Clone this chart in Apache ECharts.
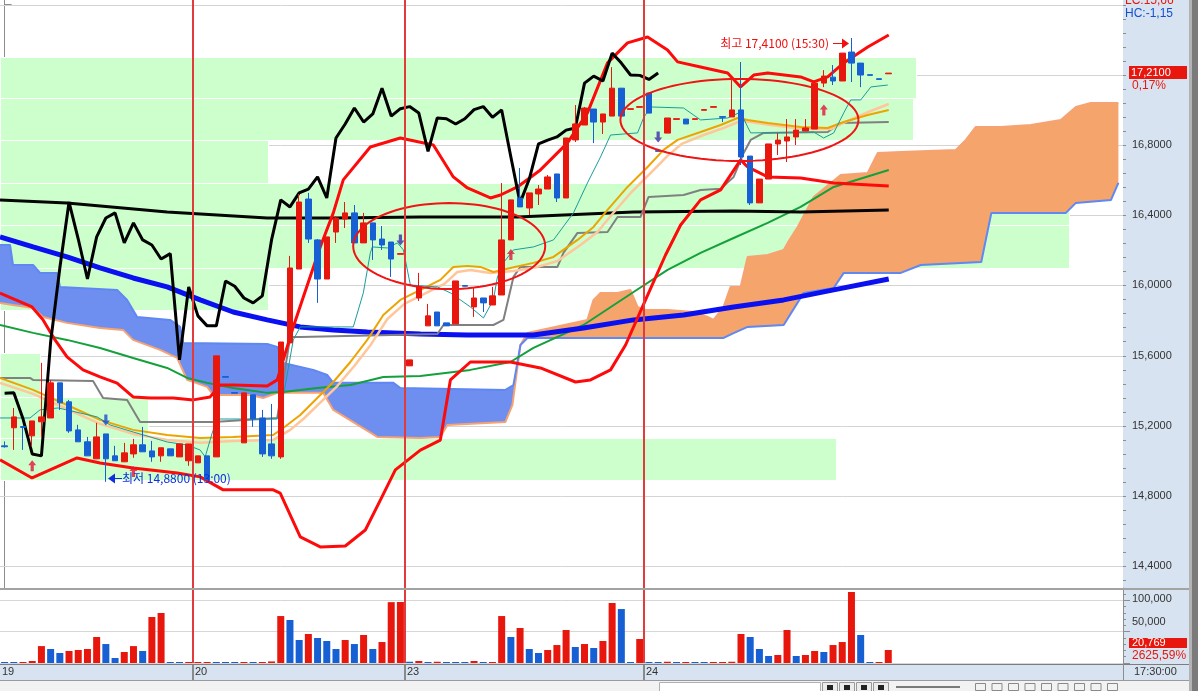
<!DOCTYPE html>
<html>
<head>
<meta charset="utf-8">
<script src="https://cdn.jsdelivr.net/npm/echarts@6.0.0/dist/echarts.min.js"></script>
<style>
html,body{margin:0;padding:0;background:#ffffff;overflow:hidden;}
#chart{width:1198px;height:691px;position:relative;}
</style>
</head>
<body>
<div id="chart"></div>
<script>
// ================= DATA =================
const dayLabels = ['19', '20', '23', '24'];
const dayStarts = [0, 21, 44, 70];
const futureSlots = 25;
const lastTimeLabel = '17:30:00';

// [open, close, low, high]
const candles = [
[15.085,15.080,15.075,15.110],[15.188,15.250,15.062,15.301],[15.195,15.190,15.062,15.195],[15.142,15.227,15.079,15.227],
[15.222,15.250,15.136,15.558],[15.244,15.444,15.244,15.460],[15.444,15.330,15.290,15.444],[15.336,15.170,15.159,15.347],
[15.176,15.108,15.108,15.205],[15.108,15.028,15.028,15.136],[15.011,15.136,15.011,15.216],[15.153,15.011,14.880,15.153],
[15.028,15.000,15.000,15.085],[14.994,15.045,14.994,15.102],[15.039,15.091,15.017,15.125],[15.091,15.051,15.051,15.193],
[15.056,15.022,14.994,15.113],[15.028,15.074,14.994,15.074],[15.068,15.028,15.028,15.068],[15.022,15.096,15.022,15.096],
[15.000,15.096,14.971,15.096],[14.988,15.028,14.988,15.028],[15.028,14.891,14.891,15.028],[15.022,15.598,15.022,15.598],
[15.480,15.476,15.476,15.480],[15.389,15.385,15.385,15.389],[15.102,15.387,15.102,15.387],[15.376,15.239,15.193,15.376],
[15.244,15.039,15.022,15.290],[15.096,15.028,15.011,15.324],[15.022,15.677,15.011,15.677],[15.672,16.099,15.672,16.168],
[16.093,16.475,16.093,16.521],[16.492,16.264,16.242,16.527],[16.259,16.036,15.900,16.264],[16.036,16.276,16.036,16.276],
[16.304,16.384,16.242,16.395],[16.378,16.413,16.327,16.475],[16.413,16.242,16.242,16.458],[16.242,16.356,16.242,16.413],
[16.356,16.259,16.145,16.356],[16.264,16.230,16.202,16.338],[16.247,16.150,16.048,16.247],[16.177,16.181,16.177,16.181],
[15.541,15.575,15.541,15.575],[15.928,15.991,15.911,16.071],[15.769,15.826,15.769,15.894],[15.848,15.769,15.769,15.848],
[15.786,15.769,15.769,15.786],[15.780,16.025,15.780,16.025],[15.999,15.995,15.995,15.999],[15.877,15.928,15.820,15.985],
[15.928,15.900,15.848,15.928],[15.888,15.940,15.888,15.991],[15.945,16.259,15.945,16.583],[16.259,16.487,16.259,16.487],
[16.498,16.447,16.447,16.669],[16.441,16.527,16.401,16.527],[16.521,16.549,16.458,16.572],[16.549,16.618,16.549,16.629],
[16.635,16.498,16.475,16.635],[16.498,16.840,16.498,16.840],[16.829,16.920,16.817,17.028],[16.914,17.011,16.914,17.017],
[17.005,16.931,16.811,17.005],[16.931,16.977,16.863,16.977],[16.965,17.124,16.965,17.244],[17.124,16.965,16.965,17.124],
[17.003,17.007,17.003,17.007],[17.015,17.019,17.015,17.019],[17.096,16.982,16.982,17.096],[16.768,16.764,16.764,16.768],
[16.868,16.954,16.868,16.954],[16.946,16.950,16.946,16.950],[16.948,16.920,16.920,16.948],[16.946,16.950,16.946,16.950],
[16.998,17.002,16.998,17.002],[17.015,17.019,17.015,17.019],[16.962,16.958,16.931,16.962],[16.960,17.000,16.960,17.170],
[17.000,16.732,16.686,17.273],[16.737,16.470,16.458,16.737],[16.470,16.606,16.470,16.606],[16.606,16.806,16.606,16.806],
[16.806,16.828,16.743,16.868],[16.823,16.846,16.703,16.948],[16.846,16.885,16.800,16.948],[16.880,16.897,16.880,16.948],
[16.891,17.153,16.891,17.153],[17.153,17.193,17.130,17.227],[17.187,17.165,17.142,17.256],[17.165,17.324,17.165,17.324],
[17.330,17.267,17.159,17.410],[17.267,17.199,17.130,17.267],[17.201,17.197,17.197,17.201],[17.178,17.174,17.174,17.178],
[17.206,17.210,17.206,17.210]
];

const volumes = [
900,800,850,3200,27000,22400,16000,19200,20800,22400,41500,30300,8000,17600,27000,19200,73500,79900,900,800,
850,900,950,900,850,800,850,800,850,2500,75000,68700,36700,46300,39900,35100,22400,36700,30300,44700,
22400,33500,97200,97400,2000,3200,800,2000,850,800,750,3200,800,850,75000,41500,55900,22400,16000,20800,
28700,52700,25600,30300,24000,35100,95800,86200,800,38300,750,700,2000,800,850,800,750,800,850,2000,
46300,41500,22400,11200,12800,52700,11200,12800,19200,17600,28700,33500,113400,44700,750,762,20769
];

// indicator lines: [bar position, price]
const bbUpper = [[-0.5,15.956],[2.98,15.877],[4.18,15.803],[5.48,15.689],[6.78,15.592],[8.52,15.518],[10.37,15.478],[12.22,15.443],[13.96,15.364],[15.81,15.358],[18.31,15.358],[20.49,15.347],[22.33,15.364],[23.42,15.432],[24.83,15.432],[28.53,15.426],[29.62,15.461],[30.27,15.575],[31.36,15.763],[32.45,15.934],[34.29,16.219],[35.71,16.413],[36.79,16.601],[39.73,16.789],[42.99,16.840],[46.58,16.800],[48.75,16.618],[50.28,16.555],[52.78,16.498],[53.87,16.515],[55.71,16.561],[58.21,16.658],[61.15,16.812],[63.32,16.983],[65.50,17.268],[67.67,17.382],[69.85,17.416],[72.02,17.342],[73.11,17.274],[75.61,17.245],[78.55,17.211],[79.96,17.131],[81.38,17.199],[82.90,17.211],[86.48,17.188],[87.90,17.160],[89.42,17.188],[91.16,17.268],[93.77,17.359],[96.05,17.427]];
const bbLower = [[-0.5,15.005],[2.98,14.902],[7.87,15.016],[10.37,14.987],[13.96,14.959],[18.75,14.930],[21.25,14.908],[23.75,14.834],[29.18,14.834],[29.94,14.816],[32.12,14.566],[34.29,14.509],[37.01,14.514],[39.19,14.605],[40.82,14.776],[42.45,14.948],[45.17,15.061],[47.34,15.118],[48.43,15.461],[50.60,15.563],[54.95,15.563],[58.21,15.529],[62.02,15.449],[63.65,15.461],[65.83,15.518],[67.46,15.660],[69.63,15.917],[71.80,16.173],[73.44,16.344],[75.61,16.487],[77.79,16.544],[79.96,16.715],[80.72,16.675],[82.90,16.618],[86.48,16.612],[90.07,16.584],[96.05,16.567]];
const maBlack = [[-0.5,16.487],[6.78,16.470],[17.66,16.418],[28.53,16.384],[35.71,16.384],[45.17,16.390],[55.71,16.390],[68.33,16.418],[79.2,16.424],[86.48,16.418],[96.05,16.430]];
const maBlue = [[-0.5,16.276],[3.09,16.219],[6.78,16.162],[10.37,16.099],[13.96,16.042],[17.66,15.991],[21.25,15.917],[24.83,15.848],[28.53,15.803],[32.12,15.763],[35.71,15.746],[39.4,15.734],[45.17,15.723],[50.28,15.717],[57.45,15.717],[62.89,15.757],[68.33,15.803],[73.76,15.831],[79.2,15.877],[84.64,15.917],[90.07,15.974],[96.05,16.036]];
const maGreen = [[-0.5,15.774],[3.09,15.729],[6.78,15.689],[10.37,15.643],[13.96,15.586],[17.66,15.529],[19.83,15.472],[22.01,15.444],[24.83,15.415],[28.53,15.387],[30.27,15.392],[33.97,15.415],[37.56,15.432],[41.14,15.478],[45.17,15.483],[50.60,15.518],[54.95,15.563],[57.45,15.643],[62.89,15.774],[68.33,15.962],[72.02,16.088],[75.61,16.185],[79.2,16.270],[82.90,16.356],[86.48,16.447],[90.07,16.561],[96.05,16.658]];
const kijun = [[-0.5,15.472],[2.76,15.472],[3.09,15.461],[9.61,15.455],[10.7,15.358],[13.31,15.346],[14.72,15.221],[22.66,15.221],[29.62,15.244],[31.03,15.706],[32.12,15.706],[47.02,15.723],[47.67,15.774],[53.1,15.774],[54.19,15.803],[55.28,16.048],[56.04,16.105],[60.06,16.105],[60.71,16.185],[62.24,16.299],[65.5,16.304],[66.59,16.390],[69.09,16.390],[69.96,16.504],[73.76,16.515],[75.61,16.544],[77.79,16.550],[79.2,16.618],[80.29,16.755],[81.05,16.829],[82.46,16.869],[89.42,16.874],[90.83,16.926],[96.05,16.931]];
const tenkan = [[-0.5,15.244],[2.76,15.244],[3.85,15.290],[5.81,15.301],[10.05,15.250],[11.46,15.204],[13.96,15.164],[15.81,15.136],[17.66,15.107],[19.83,15.090],[21.25,15.061],[21.79,15.022],[22.55,15.158],[23.09,15.238],[29.62,15.238],[30.27,15.364],[31.36,15.689],[32.12,15.763],[37.88,15.763],[38.97,15.957],[39.73,16.185],[39.95,16.219],[41.58,16.213],[42.67,16.242],[43.32,16.202],[44.08,16.002],[47.02,15.991],[48.43,15.957],[50.6,15.877],[52.02,15.814],[53.1,15.917],[53.54,16.048],[54.19,16.128],[55.28,16.202],[57.45,16.219],[59.63,16.259],[61.8,16.413],[63.32,16.584],[64.74,16.732],[65.83,16.857],[68.76,16.869],[69.41,16.954],[70.17,17.017],[73.76,17.011],[75.61,16.943],[78.55,16.954],[79.96,16.988],[80.72,16.903],[81.05,16.869],[87.9,16.874],[88.98,16.840],[90.07,16.869],[91.16,16.983],[91.92,17.057],[93.01,17.057],[94.1,17.131],[95.94,17.142]];
const maOrange = [[-0.5,15.472],[3.09,15.404],[6.78,15.318],[10.37,15.233],[13.96,15.176],[17.66,15.147],[21.25,15.130],[24.83,15.136],[29.18,15.147],[30.27,15.187],[32.12,15.261],[35.71,15.449],[37.56,15.563],[39.4,15.689],[41.14,15.831],[42.99,15.917],[45.17,15.974],[47.34,16.031],[48.75,16.105],[50.28,16.111],[51.69,16.105],[53.1,16.076],[54.95,16.099],[57.45,16.128],[59.63,16.162],[62.24,16.259],[63.98,16.333],[65.5,16.430],[67.67,16.561],[69.85,16.675],[71.59,16.772],[73.11,16.829],[75.61,16.874],[77.79,16.914],[79.63,16.954],[80.72,16.943],[82.9,16.926],[86.48,16.903],[89.42,16.897],[91.16,16.931],[93.77,16.971],[96.05,17.000]];
const maPeach = [[-0.5,15.444],[3.09,15.381],[6.78,15.295],[10.37,15.210],[13.96,15.153],[17.66,15.119],[21.25,15.102],[24.83,15.113],[29.18,15.119],[31.03,15.176],[32.45,15.238],[36.14,15.426],[37.99,15.540],[39.84,15.666],[41.58,15.808],[43.43,15.894],[45.6,15.951],[47.78,16.008],[49.19,16.076],[50.6,16.088],[52.78,16.071],[55.28,16.082],[57.89,16.105],[60.06,16.139],[62.56,16.230],[64.41,16.304],[65.93,16.401],[68.11,16.532],[70.28,16.646],[72.02,16.738],[73.55,16.806],[75.94,16.857],[78.11,16.897],[79.96,16.937],[81.05,16.931],[83.22,16.914],[86.81,16.891],[89.75,16.891],[91.59,16.937],[94.1,16.994],[96.05,17.034]];
const spanA = [[-0.5,15.900],[0.91,15.888],[3.09,15.871],[4.18,15.820],[6.78,15.786],[10.37,15.757],[12.87,15.746],[13.96,15.689],[16.9,15.632],[18.75,15.586],[19.83,15.461],[22.01,15.421],[22.66,15.375],[26.68,15.375],[28.1,15.358],[29.62,15.387],[34.62,15.387],[35.71,15.290],[40.49,15.136],[45.17,15.130],[47.34,15.136],[48.1,15.204],[54.41,15.221],[55.17,15.318],[56.04,15.660],[56.8,15.728],[63.32,15.803],[63.98,15.917],[64.74,15.957],[66.59,15.957],[67.98,15.974],[68.76,15.877],[69.41,15.860],[72.02,15.860],[74.85,15.848],[76.37,15.820],[77.02,15.803],[78.11,15.877],[78.87,15.991],[79.96,15.991],[80.72,16.162],[82.9,16.173],[84.64,16.202],[85.07,16.242],[86.16,16.333],[87.9,16.504],[90.83,16.629],[93.77,16.641],[94.86,16.755],[97.36,16.760],[103.34,16.772],[104.43,16.829],[105.51,16.903],[108.23,16.903],[111.5,16.914],[114.75,16.943],[116.38,17.017],[118.0,17.040],[121.0,17.040]];
const spanB = [[-0.5,16.230],[0.59,16.230],[0.91,16.116],[3.09,16.116],[3.85,16.071],[5.7,16.071],[6.02,15.991],[12.22,15.974],[13.31,15.917],[14.4,15.820],[17.98,15.803],[19.07,15.763],[19.4,15.671],[28.53,15.666],[29.62,15.649],[30.27,15.557],[33.53,15.518],[35.06,15.489],[35.71,15.444],[42.24,15.444],[43.0,15.415],[54.41,15.404],[55.28,15.432],[56.04,15.660],[56.8,15.700],[78.11,15.700],[79.2,15.728],[80.72,15.763],[84.64,15.774],[86.81,15.957],[90.07,15.985],[91.16,16.071],[97.36,16.071],[99.53,16.116],[106.1,16.133],[107.2,16.413],[115.3,16.413],[116.38,16.470],[120.2,16.487],[121.0,16.584]];
const cloudCross = 56.04;

// support / resistance zones: [from bar, to bar, low price, high price]
const zones = [
[-0.5,99.0,17.068,17.302],[-0.5,98.7,16.829,17.068],[-0.5,28.6,16.584,16.829],[-0.5,115.6,16.344,16.584],
[-0.5,115.6,16.099,16.344],[-0.5,28.6,15.860,16.099],[-0.5,3.85,15.364,15.615],
[-0.5,15.6,15.130,15.364],[-0.5,90.3,14.891,15.130]
];
// hand-drawn ellipses: [centre bar, centre price, radius in bars, radius in price]
const ellipses = [[48.3,16.224,10.43,0.245],[79.83,16.943,12.93,0.234]];
// signal arrows: [bar, price]
const buySignals = [[3,14.972],[14,14.939],[55,16.176],[89,17.0]];
const sellSignals = [[11,15.233],[43,16.258],[71,16.846]];

const priceTicks = [14.4,14.8,15.2,15.6,16.0,16.4,16.8,17.2,17.6];
const priceLabels = [14.4,14.8,15.2,15.6,16.0,16.4,16.8];
const volumeTicks = [50000,100000];
const maxNote = {bar:92, text:'최고 17,4100 (15:30)'};
const minNote = {bar:11, text:'최저 14,8800 (13:00)'};
const headerLC = 'LC:15,66', headerHC = 'HC:-1,15', changeText = '0,17%';

// ================= CHART =================
const RED = '#e8170e', BLUE = '#1660d4';
const FONT = '"Liberation Sans", Arial, sans-serif';
const KFONT = '"Noto Sans CJK KR", "Liberation Sans", sans-serif';
const nSlots = candles.length + futureSlots;
const categories = [];
for (let i = 0; i < nSlots; i++) categories.push(String(i));
const priceMin = 14.2746, priceMax = 17.6267, volMax = 119800;
const volPanelHeight = 75;
const minorTicks = [];
for (let k = 0; k <= 41; k++) minorTicks.push(+(14.32 + k * 0.08).toFixed(2));
const chikou = [];
for (let i = 0; i + futureSlots < candles.length; i++) chikou.push([i, candles[i + futureSlots][1]]);

const chart = echarts.init(document.getElementById('chart'), null, {renderer: 'canvas'});

function lineSeries(name, data, color, width, z) {
  return {name, type: 'line', xAxisIndex: 1, yAxisIndex: 0, data, showSymbol: false, symbol: 'none',
    lineStyle: {color, width}, z, silent: true, animation: false, clip: true};
}
const hiddenAxisParts = {
  show: false, axisLine: {show: false}, axisTick: {show: false}, axisLabel: {show: false},
  splitLine: {show: false}, splitArea: {show: false}, minorTick: {show: false}, minorSplitLine: {show: false},
  axisPointer: {show: false}
};

const option = {
  animation: false,
  backgroundColor: '#ffffff',
  tooltip: {show: false},
  axisPointer: {show: false},
  grid: [
    {left: 0, right: 75, top: 0, height: 588, show: false},
    {left: 0, right: 75, top: 588, height: volPanelHeight, show: false}
  ],
  xAxis: [
    Object.assign({type: 'category', gridIndex: 0, position: 'bottom', data: categories, boundaryGap: true}, hiddenAxisParts),
    Object.assign({type: 'value', gridIndex: 0, position: 'top', min: -0.5, max: nSlots - 0.5}, hiddenAxisParts),
    Object.assign({type: 'category', gridIndex: 1, position: 'bottom', data: categories, boundaryGap: true}, hiddenAxisParts)
  ],
  yAxis: [
    {type: 'value', gridIndex: 0, position: 'right', min: priceMin, max: priceMax,
      axisLine: {show: true, lineStyle: {color: '#8d8d8d'}},
      axisTick: {show: true, customValues: priceTicks, length: 7, lineStyle: {color: '#8d8d8d'}},
      axisLabel: {show: true, customValues: priceLabels, formatter: v => v.toFixed(4).replace('.', ','),
        color: '#333', fontSize: 11, fontFamily: FONT, margin: 9},
      splitLine: {show: false}, axisPointer: {show: false}},
    {type: 'value', gridIndex: 1, position: 'right', min: 0, max: volMax, interval: 50000,
      axisLine: {show: true, lineStyle: {color: '#8d8d8d'}},
      axisTick: {show: true, length: 7, lineStyle: {color: '#8d8d8d'}},
      minorTick: {show: true, splitNumber: 5, length: 3, lineStyle: {color: '#8d8d8d'}},
      axisLabel: {show: true, showMinLabel: false, showMaxLabel: false, color: '#333', fontSize: 11, fontFamily: FONT, margin: 9,
        formatter: v => v === 50000 ? '{b|50,000}' : (v === 100000 ? '{a|100,000}' : ''),
        rich: {a: {fontSize: 11, fontFamily: FONT, color: '#333', padding: [0, 0, 2, 0]},
               b: {fontSize: 11, fontFamily: FONT, color: '#333', padding: [0, 0, 20, 0]}}},
      splitLine: {show: true, lineStyle: {color: '#d6d6d6'}}, axisPointer: {show: false}}
  ],
  series: [
    {name: 'grid', type: 'custom', xAxisIndex: 1, yAxisIndex: 0, z: 0.5, silent: true,
      data: priceTicks.map(v => [60, v]), encode: {x: 0, y: 1},
      renderItem: (params, api) => {
        const a = api.coord([-0.5, api.value(1)]), b = api.coord([nSlots - 0.5, api.value(1)]);
        const y = Math.round(a[1]) + 0.5;
        return {type: 'line', shape: {x1: a[0], y1: y, x2: b[0], y2: y}, style: {stroke: '#d4d4d4', lineWidth: 1}};
      }},
    {name: 'zones', type: 'custom', xAxisIndex: 1, yAxisIndex: 0, z: 1, silent: true,
      data: zones, encode: {x: [0, 1], y: [2, 3]},
      renderItem: (params, api) => {
        const p0 = api.coord([api.value(0), api.value(3)]);
        const p1 = api.coord([api.value(1), api.value(2)]);
        const x = Math.round(p0[0]) + 0.5, y = Math.round(p0[1]) + 0.5;
        return {type: 'rect', shape: {x, y, width: Math.round(p1[0] - p0[0]), height: Math.round(p1[1] - p0[1])},
          style: {fill: '#ccffcc', stroke: '#ffffff', lineWidth: 1}};
      }},
    {name: 'cloud', type: 'custom', xAxisIndex: 1, yAxisIndex: 0, z: 2, silent: true,
      data: [[60, 15]], encode: {x: 0, y: 1},
      renderItem: (params, api) => {
        const pts = arr => arr.map(d => api.coord(d));
        const bA = spanA.filter(d => d[0] <= cloudCross), bB = spanB.filter(d => d[0] <= cloudCross);
        const oA = spanA.filter(d => d[0] >= cloudCross), oB = spanB.filter(d => d[0] >= cloudCross);
        return {type: 'group', children: [
          {type: 'polygon', shape: {points: pts(bA).concat(pts(bB).reverse())}, style: {fill: '#6e8ef0'}},
          {type: 'polygon', shape: {points: pts(oA).concat(pts(oB).reverse())}, style: {fill: '#f5a46c'}}
        ]};
      }},
    lineSeries('spanA', spanA, '#f7a272', 2, 2.1),
    lineSeries('spanB', spanB, '#5f88f2', 2, 2.1),
    lineSeries('green', maGreen, '#14a03a', 2, 3),
    lineSeries('blueMA', maBlue, '#0a10f0', 5, 3),
    lineSeries('blackMA', maBlack, '#050505', 3, 3),
    lineSeries('kijun', kijun, '#808080', 2, 3),
    lineSeries('peach', maPeach, '#ffc69a', 2.5, 3),
    lineSeries('orange', maOrange, '#eea400', 2, 3.1),
    lineSeries('tenkan', tenkan, '#1a9c9c', 1, 3.2),
    lineSeries('bbLower', bbLower, '#ff0a0a', 3, 3.3),
    lineSeries('bbUpper', bbUpper, '#ff0a0a', 3, 3.3),
    lineSeries('chikou', chikou, '#000000', 3, 3.4),
    {name: 'candles', type: 'candlestick', xAxisIndex: 0, yAxisIndex: 0, data: candles, barWidth: 6, z: 4,
      itemStyle: {color: RED, color0: BLUE, borderColor: RED, borderColor0: BLUE, borderWidth: 1}, silent: true},
    {name: 'volume', type: 'bar', xAxisIndex: 2, yAxisIndex: 1, barWidth: 7, barMinHeight: 1, z: 4, silent: true,
      data: volumes.map((v, i) => ({value: v, itemStyle: {color: (i === 0 || v < volumes[i - 1]) ? BLUE : RED}}))},
    {name: 'ellipses', type: 'custom', xAxisIndex: 1, yAxisIndex: 0, z: 5, silent: true,
      data: ellipses, encode: {x: 0, y: 1},
      renderItem: (params, api) => {
        const c = api.coord([api.value(0), api.value(1)]);
        const s = api.size([api.value(2), api.value(3)]);
        const pts = [];
        for (let k = 0; k <= 96; k++) {
          const t = k / 96 * Math.PI * 2;
          pts.push([c[0] + s[0] * Math.cos(t), c[1] + s[1] * Math.sin(t)]);
        }
        return {type: 'polyline', shape: {points: pts}, style: {fill: null, stroke: '#f01414', lineWidth: 2}};
      }},
    {name: 'buy', type: 'scatter', xAxisIndex: 1, yAxisIndex: 0, z: 5, silent: true, data: buySignals,
      symbol: 'path://M4,0 L8,5 L5.6,5 L5.6,11 L2.4,11 L2.4,5 L0,5 Z', symbolSize: [8, 11],
      itemStyle: {color: '#e4143a'}},
    {name: 'sell', type: 'scatter', xAxisIndex: 1, yAxisIndex: 0, z: 5, silent: true,
      data: sellSignals.map((d, i) => ({value: d, itemStyle: {color: i === 0 ? '#1a4fd0' : '#3b2ca6'}})),
      symbol: 'path://M2.4,0 L5.6,0 L5.6,6 L8,6 L4,11 L0,6 L2.4,6 Z', symbolSize: [8, 11]}
  ]
};
chart.setOption(option);

// ---------- frame, labels and annotations placed through the chart's own scales ----------
(function () {
  const P = (v, p) => chart.convertToPixel({xAxisIndex: 1, yAxisIndex: 0}, [v, p]);
  const V = (i, v) => chart.convertToPixel({xAxisIndex: 2, yAxisIndex: 1}, [i, v]);
  const plotRight = Math.round(P(nSlots - 0.5, priceMin)[0]);
  const volBase = Math.round(V(0, 0)[1]);
  const panelBg = '#d7e3f0';
  const els = [];
  const txt = (x, y, text, fill, font, align, z) => els.push({type: 'text', x, y, z: z || 20, silent: true,
    style: {text, fill, font, align: align || 'left', verticalAlign: 'middle'}});

  els.push({type: 'rect', z: -1, silent: true, shape: {x: plotRight, y: 0, width: 1190 - plotRight, height: 680}, style: {fill: panelBg}});
  els.push({type: 'rect', z: 6, silent: true, shape: {x: 0, y: volBase + 1, width: 1190, height: 680 - volBase - 1}, style: {fill: panelBg}});
  els.push({type: 'rect', z: 6.5, silent: true, shape: {x: 0, y: volBase + 1, width: 1190, height: 1}, style: {fill: '#7d7d7d'}});
  els.push({type: 'rect', z: 6.5, silent: true, shape: {x: 0, y: 680, width: 1190, height: 1}, style: {fill: '#9a9a9a'}});
  els.push({type: 'rect', z: 6.5, silent: true, shape: {x: plotRight, y: volBase + 1, width: 1, height: 680 - volBase - 1}, style: {fill: '#8d8d8d'}});
  minorTicks.forEach(v => {
    const y = Math.round(P(0, v)[1]);
    els.push({type: 'rect', z: 6.5, silent: true, shape: {x: plotRight, y: y, width: 3, height: 1}, style: {fill: '#8d8d8d'}});
  });
  els.push({type: 'rect', z: 7.5, silent: true, shape: {x: 0, y: 588, width: 1190, height: 2}, style: {fill: '#a3a3a3'}});
  els.push({type: 'rect', z: 8, silent: true, shape: {x: 1189, y: 0, width: 3, height: 691}, style: {fill: '#b3b3b3'}});
  els.push({type: 'rect', z: 8, silent: true, shape: {x: 1192, y: 0, width: 6, height: 691}, style: {fill: '#7b7b7b'}});

  // day separators: red across both panels, grey in the time strip, label after the line
  dayStarts.forEach((ds, k) => {
    const x = Math.round(P(ds - 0.5, priceMax)[0]);
    if (ds > 0) {
      els.push({type: 'rect', z: 7, silent: true, shape: {x: x - 1, y: 0, width: 2, height: volBase}, style: {fill: '#e23b3b'}});
      els.push({type: 'rect', z: 7, silent: true, shape: {x: x - 1, y: volBase + 2, width: 2, height: 680 - volBase - 2}, style: {fill: '#8a8a8a'}});
    }
    txt(Math.max(x + 2, 1), volBase + 9, dayLabels[k], '#333', '11px ' + FONT, 'left', 8);
  });
  txt(plotRight + 11, volBase + 9, lastTimeLabel, '#333', '11px ' + FONT, 'left', 8);

  txt(plotRight + 2, 1, headerLC, '#e8170e', '12px ' + FONT, 'left', 9);
  txt(plotRight + 2, 14, headerHC, '#1450d0', '12px ' + FONT, 'left', 9);

  const last = candles[candles.length - 1][1];
  const ly = Math.round(P(0, last)[1]);
  els.push({type: 'rect', z: 9, silent: true, shape: {x: plotRight + 6, y: ly - 7, width: 58, height: 13}, style: {fill: '#e8170e'}});
  txt(plotRight + 8, ly, last.toFixed(4).replace('.', ','), '#ffffff', '11px ' + FONT, 'left', 10);
  txt(plotRight + 9, ly + 13, changeText, '#e8170e', '12px ' + FONT, 'left', 10);

  const lastVol = volumes[volumes.length - 1];
  const prevVol = volumes[volumes.length - 2];
  const vy = Math.round(V(volumes.length - 1, lastVol)[1]) - 7;
  els.push({type: 'rect', z: 9, silent: true, shape: {x: plotRight + 6, y: vy - 5, width: 58, height: 10}, style: {fill: '#e8170e'}});
  txt(plotRight + 9, vy, lastVol.toLocaleString('en-US'), '#ffffff', '11px ' + FONT, 'left', 10);
  txt(plotRight + 9, vy + 13, ((lastVol / prevVol - 1) * 100).toFixed(2).replace('.', ',') + '%', '#e8170e', '12px ' + FONT, 'left', 10);

  const hi = P(maxNote.bar, candles[maxNote.bar][3]);
  const hy = Math.round(hi[1]) + 5, hx = Math.round(hi[0]) - 2;
  els.push({type: 'rect', z: 10, silent: true, shape: {x: hx - 16, y: hy, width: 10, height: 1}, style: {fill: '#f01010'}});
  els.push({type: 'polygon', z: 10, silent: true, shape: {points: [[hx - 7, hy - 4.5], [hx, hy + 0.5], [hx - 7, hy + 5.5]]}, style: {fill: '#f01010'}});
  txt(hx - 20, hy, maxNote.text, '#f01010', '12px ' + KFONT, 'right', 10);

  const lo = P(minNote.bar, candles[minNote.bar][2]);
  const my = Math.round(lo[1]) - 4, mx = Math.round(lo[0]) + 2;
  els.push({type: 'polygon', z: 10, silent: true, shape: {points: [[mx + 7, my - 4.5], [mx, my + 0.5], [mx + 7, my + 5.5]]}, style: {fill: '#1030e0'}});
  els.push({type: 'rect', z: 10, silent: true, shape: {x: mx + 6, y: my, width: 8, height: 1}, style: {fill: '#1030e0'}});
  txt(mx + 14, my, minNote.text, '#1030e0', '12px ' + KFONT, 'left', 10);

  els.push({type: 'rect', z: 8, silent: true, shape: {x: 0, y: 681, width: 1189, height: 10}, style: {fill: '#f2f2f2'}});
  els.push({type: 'rect', z: 8, silent: true, shape: {x: 659.5, y: 682.5, width: 161, height: 9}, style: {fill: '#ffffff', stroke: '#b0b0b0', lineWidth: 1}});
  for (let k = 0; k < 4; k++) {
    els.push({type: 'rect', z: 8, silent: true, shape: {x: 822.5 + k * 17, y: 682.5, width: 15, height: 9}, style: {fill: '#ececec', stroke: '#9a9a9a', lineWidth: 1}});
    els.push({type: 'rect', z: 8, silent: true, shape: {x: 827 + k * 17, y: 685, width: 6, height: 5}, style: {fill: '#222'}});
  }
  els.push({type: 'rect', z: 8, silent: true, shape: {x: 896, y: 686, width: 64, height: 2}, style: {fill: '#7a7a7a'}});
  for (let k = 0; k < 9; k++) {
    els.push({type: 'rect', z: 8, silent: true, shape: {x: 975.5 + k * 16.5, y: 683.5, width: 10, height: 7}, style: {fill: 'none', stroke: '#8a8a8a', lineWidth: 1}});
  }

  chart.setOption({graphic: {elements: els}});
})();
</script>
</body>
</html>
